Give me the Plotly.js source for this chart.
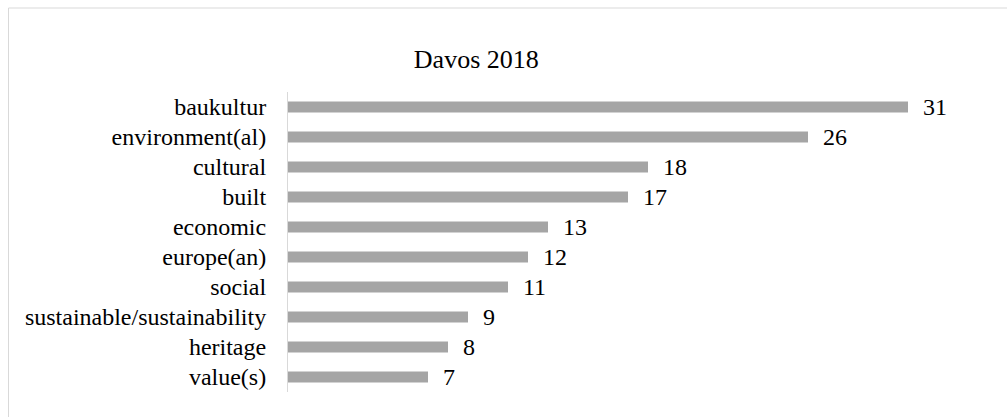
<!DOCTYPE html>
<html>
<head>
<meta charset="utf-8">
<script src="https://cdn.plot.ly/plotly-3.0.1.min.js"></script>
<style>
html,body{margin:0;padding:0;background:#fff;}
#chart{width:1007px;height:417px;}
</style>
</head>
<body>
<div id="chart"></div>
<script>
const categories = ["baukultur","environment(al)","cultural","built","economic","europe(an)","social","sustainable/sustainability","heritage","value(s)"];
const values = [31,26,18,17,13,12,11,9,8,7];
const chartTitle = "Davos 2018";

const serif = "Liberation Serif, Times New Roman, serif";
const trace = {
  type: 'bar',
  orientation: 'h',
  x: values,
  y: categories,
  marker: {color: '#a5a5a5'},
  hoverinfo: 'none'
};
const annotations = values.map((v, i) => ({
  x: v, y: categories[i], xref: 'x', yref: 'y',
  text: String(v), showarrow: false, xanchor: 'left', xshift: 13,
  font: {family: serif, size: 24, color: '#000'}
}));
const layout = {
  width: 1007, height: 417,
  margin: {l: 288, r: 19, t: 92, b: 25},
  paper_bgcolor: '#fff', plot_bgcolor: '#fff',
  bargap: 0.63,
  showlegend: false,
  font: {family: serif},
  title: {text: chartTitle, font: {family: serif, size: 26, color: '#000'},
          xref: 'container', x: 0.473, xanchor: 'center',
          yref: 'container', y: 0.858, yanchor: 'middle'},
  xaxis: {range: [0, 35], visible: false, fixedrange: true},
  yaxis: {autorange: 'reversed', showline: true, linecolor: '#d9d9d9', linewidth: 1,
          showgrid: false, zeroline: false, ticks: 'outside', ticklen: 16, tickcolor: 'rgba(0,0,0,0)',
          tickfont: {family: serif, size: 24, color: '#000'}},
  annotations: annotations,
  shapes: [{type: 'rect', xref: 'paper', yref: 'paper',
            x0: (8.5 - 288) / 700, x1: 1.1, y0: -0.2, y1: (392 - 8) / 300,
            line: {color: '#d9d9d9', width: 1}, fillcolor: 'rgba(0,0,0,0)', layer: 'below'}]
};
Plotly.newPlot('chart', [trace], layout, {staticPlot: true, displayModeBar: false});
</script>
</body>
</html>
